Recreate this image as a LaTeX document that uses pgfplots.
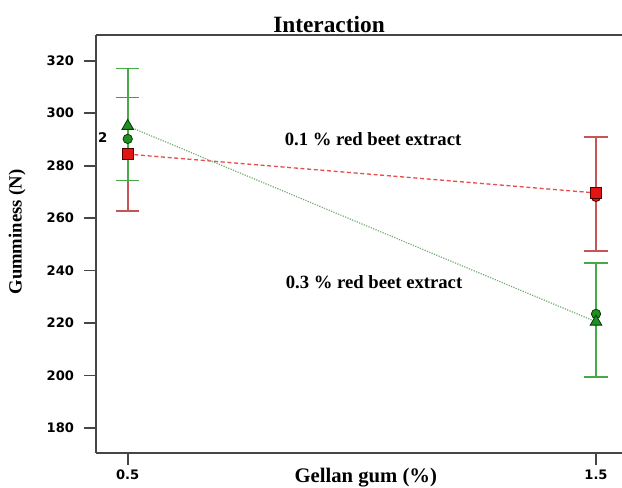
\documentclass[border=0pt]{standalone}
\usepackage{fontspec}
\setmainfont{Liberation Serif}
\newfontfamily\tickfont{DejaVu Sans}
\usepackage{pgfplots}
\pgfplotsset{compat=1.18}
\definecolor{errred}{RGB}{196,86,86}
\definecolor{errgreen}{RGB}{70,170,70}
\definecolor{mkred}{RGB}{228,20,20}
\definecolor{mkgreen}{RGB}{35,140,35}
\definecolor{axgray}{RGB}{70,70,70}
\definecolor{lngreen}{RGB}{120,170,120}
\definecolor{lnred}{RGB}{228,80,80}
\begin{document}
\begin{tikzpicture}
\begin{axis}[
  at={(0,0)}, anchor=south west,
  scale only axis, width=394.5pt, height=313.5pt,
  xmin=0.4323, xmax=1.5555, ymin=170.5, ymax=329.8,
  axis x line*=box, axis y line*=left,
  axis line style={-, axgray, line width=1.5pt},
  tick align=outside, xtick pos=left, ytick pos=left,
  major tick length=9pt,
  tick style={axgray, line width=1.3pt},
  xtick={0.5,1.5}, xticklabels={0.5,1.5},
  ytick={180,200,...,320},
  /pgf/number format/assume math mode=true,
  ticklabel style={font=\tickfont\bfseries\fontsize{9.8}{11}\selectfont},
  yticklabel style={xshift=-4pt},
  clip=false,
]
% error bars
\addplot[only marks, mark=none, errred, error bars/.cd, y dir=both, y explicit,
  error bar style={line width=1.2pt, errred},
  error mark options={rotate=90, mark size=8.8pt, line width=1.2pt, errred}]
  coordinates {(0.5,284.4) +- (0,21.6) (1.5,269.2) +- (0,21.7)};
\addplot[only marks, mark=none, errgreen, error bars/.cd, y dir=both, y explicit,
  error bar style={line width=1.2pt, errgreen},
  error mark options={rotate=90, mark size=8.8pt, line width=1.2pt, errgreen}]
  coordinates {(0.5,295.7) +- (0,21.4) (1.5,221.1) +- (0,21.7)};
% lines
\addplot[lnred, densely dashed, line width=1pt] coordinates {(0.5,284.4) (1.5,269.6)};
\addplot[lngreen, densely dotted, line width=0.9pt] coordinates {(0.5,295.1) (1.5,220.5)};
% markers
\addplot[only marks, mark=*, mark size=3.5pt, mark options={fill=mkgreen, draw=black!60!green!60!black, line width=0.6pt}]
  coordinates {(0.5,290.2) (1.5,223.5)};
\addplot[only marks, mark=*, mark size=3.5pt, mark options={fill=mkred, draw=black!70!red, line width=0.6pt}]
  coordinates {(1.5,268.1)};
\addplot[only marks, mark=square*, mark size=4pt, mark options={fill=mkred, draw=black!70!red, line width=0.6pt}]
  coordinates {(0.5,284.4) (1.5,269.6)};
\addplot[only marks, mark=triangle*, mark size=5pt, mark options={fill=mkgreen, draw=black!60!green!60!black, line width=0.6pt}]
  coordinates {(0.5,295.1) (1.5,220.5)};
% texts
\node[font=\tickfont\bfseries\fontsize{10}{12}\selectfont] at (axis cs:0.447,290.9) {2};
\node[font=\bfseries\fontsize{14}{16}\selectfont] at (axis cs:1.024,290.2) {0.1 \% red beet extract};
\node[font=\bfseries\fontsize{14}{16}\selectfont] at (axis cs:1.026,235.6) {0.3 \% red beet extract};
\node[font=\bfseries\fontsize{17.5}{20}\selectfont] at (rel axis cs:0.443,1.026) {Interaction};
\node[font=\bfseries\fontsize{15.5}{18}\selectfont] at (rel axis cs:0.513,-0.0598) {Gellan gum (\%)};
\node[font=\bfseries\fontsize{14}{16}\selectfont, rotate=90] at (rel axis cs:-0.150,0.5287) {Gumminess (N)};
\end{axis}
\pgfresetboundingbox
\path[use as bounding box] (-72pt,-26.25pt) rectangle (394.5pt,339.75pt);
\end{tikzpicture}
\end{document}
